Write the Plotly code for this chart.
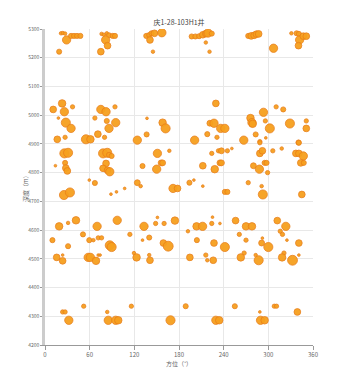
import plotly.graph_objects as go

title_text = "庆1-28-103H1井"
x_title = "方位（°）"
y_title = "深度（m）"
x_ticks = [0, 60, 120, 180, 240, 300, 360]
y_ticks = [4200, 4300, 4400, 4500, 4600, 4700, 4800, 4900, 5000, 5100, 5200, 5300]

# azimuth (deg), depth (m), relative intensity (bubble value)
azimuth = [
    # 5200-5300
    21.5, 24, 27, 29, 35, 39, 43, 47.5, 19, 76, 79, 83, 86, 91, 94, 81.5, 84, 75,
    136, 140, 143, 147, 141, 157, 145, 197, 202, 207, 212, 216, 219, 224, 216, 221,
    273, 277, 281, 284, 287, 307, 331, 338, 341, 342, 347, 351, 340.5,
    # 4900-5050
    23, 11, 26, 37, 18, 28, 35, 16.5, 27, 55, 61, 71, 80, 67, 75, 82, 94, 83, 86, 95,
    137, 158, 162, 136.5, 124, 201, 218, 221.5, 227, 229.5, 231, 236, 241.6, 267,
    276, 278, 279, 283, 288.6, 296, 296.6, 293.5, 302, 310.5, 320, 329, 351, 351, 340.5,
    # 4700-4900
    26, 31, 14, 27, 28, 30, 25.5, 33.5, 59.5, 67, 78, 83.6, 86, 82, 78, 84, 87, 88.6, 96,
    151, 167, 131, 156, 158, 150, 89.5, 124, 128.5, 172, 178, 107, 194, 200, 212,
    224, 233, 237, 245, 251, 212, 228, 235, 237, 241.6, 245, 273, 280, 288, 288.6, 292,
    288.6, 295, 297.6, 299, 306, 318, 291, 292.6, 337, 341, 347, 343.6, 347.6, 341, 345,
    # 4510-4650
    19, 31, 41.6, 70, 97, 10, 51, 59.5, 65, 71.5, 76, 31, 87, 89.5,
    133, 151, 148.6, 160, 174.5, 203.6, 211.7, 224, 225, 235, 256, 270, 278, 312, 323.5,
    114, 131, 140, 159, 165.5, 192, 204, 227, 241.6, 261, 270, 291, 292, 300, 316, 319,
    325, 341, 321, 267.5, 119.5, 140,
    # 4490-4515
    15.7, 23.7, 23.7, 58, 61, 68.5, 71.5, 74, 123, 141, 194.6, 216, 218, 226, 263, 283,
    287, 318.5, 332.5, 341,
    # 4280-4340
    23.7, 27, 32, 52, 83.6, 85, 95, 98.4, 116, 168.6, 189, 229.5, 234, 255, 288.6, 289.5,
    295, 308, 311, 339,
]

depth = [
    # 5200-5300
    5285, 5286, 5284, 5262, 5276, 5276, 5276, 5276, 5221, 5283, 5280, 5285, 5278, 5276, 5276, 5262, 5242, 5221,
    5276, 5279, 5285, 5285, 5262, 5287, 5221, 5274, 5274, 5275, 5280, 5284, 5286, 5284, 5253, 5221,
    5276, 5276, 5278, 5282, 5283, 5233, 5285, 5285, 5283, 5262, 5275, 5275, 5242,
    # 4900-5050
    5041, 5020, 5012, 5029, 4990, 4974, 4954, 4916, 4923, 4916, 4916, 4934, 4923, 4990, 5020, 5012, 5029, 4980, 4954, 4974,
    4989, 4974, 4954, 4933, 4913, 4913, 4934, 4972, 4972, 5041, 4923, 4954, 4954, 4913,
    4990, 4974, 4970, 4933, 4908, 4980, 4921, 5010, 4954, 5029, 5020, 4971, 4980, 4954, 4905,
    # 4700-4900
    4867, 4869, 4824, 4834, 4816, 4806, 4722, 4731, 4774, 4764, 4867, 4869, 4862, 4832, 4815, 4808, 4803, 4725, 4733,
    4867, 4876, 4823, 4834, 4834, 4812, 4858, 4765, 4753, 4745, 4745, 4745, 4765, 4774, 4753,
    4867, 4876, 4876, 4876, 4884, 4824, 4812, 4834, 4834, 4733, 4733, 4765, 4824, 4812, 4867, 4876,
    4904, 4834, 4834, 4800, 4876, 4884, 4753, 4724, 4867, 4867, 4858, 4834, 4834, 4904, 4724,
    # 4510-4650
    4613, 4625, 4634, 4613, 4634, 4565, 4585, 4565, 4565, 4573, 4573, 4544, 4547, 4541,
    4613, 4644, 4623, 4623, 4633, 4613, 4613, 4623, 4645, 4623, 4633, 4613, 4613, 4633, 4613,
    4585, 4565, 4574, 4555, 4544, 4596, 4565, 4555, 4541, 4585, 4565, 4555, 4572, 4541, 4596, 4585,
    4565, 4555, 4520, 4520, 4520, 4513,
    # 4490-4515
    4505, 4493, 4513, 4505, 4505, 4493, 4513, 4513, 4505, 4495, 4505, 4513, 4495, 4495, 4505, 4513,
    4495, 4505, 4495, 4513,
    # 4280-4340
    4315, 4315, 4286, 4335, 4315, 4286, 4286, 4286, 4335, 4286, 4335, 4286, 4286, 4335, 4315, 4286,
    4286, 4335, 4335, 4315,
]

intensity = [
    # 5200-5300
    1, 1, 1, 4, 2, 2, 2, 2, 2, 1, 1, 1, 2, 2, 2, 4, 3, 3,
    2, 2, 2, 3, 3, 4, 1, 2, 2, 2, 3, 3, 4, 2, 1, 1,
    2, 3, 3, 3, 3, 4, 1, 2, 2, 4, 3, 3, 3,
    # 4900-5050
    3.5, 3, 4, 1.5, 0.5, 4.5, 4, 3, 1.5, 4.5, 3.5, 3, 1.5, 1.5, 4, 4, 1.5, 2, 4, 4,
    0.5, 3.5, 4.5, 2, 4, 4, 2, 2.5, 4, 3, 1.5, 4, 4, 4,
    3.5, 4, 3.5, 2, 1.5, 1.5, 0.5, 4, 4.5, 1.5, 2, 4.5, 1.5, 3, 2,
    # 4700-4900
    4.5, 4.5, 0.5, 2, 3, 3, 4.5, 4.5, 0.5, 2, 4.5, 4.5, 2, 3, 3, 3, 4, 0.5, 0.5,
    4, 1, 2, 2.5, 2.5, 4, 2, 2.5, 1, 4, 3, 0.5, 2, 0.5, 0.5,
    1.5, 1.5, 2.5, 1.5, 0.5, 3, 3.5, 2.5, 2.5, 2, 2, 1.5, 2.5, 4, 3, 3,
    1.5, 2, 2, 1.5, 1.5, 1, 1, 4.5, 3, 3, 4, 3, 2, 2, 3,
    # 4510-4650
    3.5, 1, 3.5, 4, 4, 2, 2, 2, 1, 1.5, 1.5, 2, 4.5, 4.5,
    4, 0.5, 1.5, 1.5, 3.5, 3.5, 4, 1.5, 0.5, 0.5, 3, 3.5, 3.5, 3, 4,
    1.5, 0.5, 2, 3, 5, 1, 2, 3, 4.5, 1.5, 1.5, 2.5, 0.5, 4.5, 1.5, 1.5,
    0.5, 3, 1.5, 1.5, 1, 1,
    # 4490-4515
    3, 3, 0.5, 4, 4, 3.5, 0.5, 0.5, 3.5, 3, 3, 1.5, 1, 3, 3.5, 1,
    4.5, 3.5, 5, 0.5,
    # 4280-4340
    1.5, 1.5, 4, 1.5, 1, 4, 4, 3.5, 1.5, 4.5, 2, 4, 3.5, 2, 0.5, 4,
    3.5, 1.5, 1.5, 3,
]

marker_px = [1.9 + 1.6 * v for v in intensity]

font_family = "Noto Sans CJK SC, Noto Sans, sans-serif"

fig = go.Figure()
fig.add_trace(go.Scatter(
    x=azimuth, y=depth, mode="markers",
    marker=dict(size=marker_px, color="rgb(246,160,30)", opacity=0.95,
                line=dict(color="rgb(232,124,24)", width=0.8)),
    hoverinfo="x+y", showlegend=False,
))

fig.update_layout(
    width=347, height=388,
    margin=dict(l=45, r=34, t=29, b=43),
    paper_bgcolor="white", plot_bgcolor="white",
    font=dict(family=font_family, size=6, color="#666"),
    title=dict(text=title_text, x=0.516, xanchor="center", y=0.942, yanchor="middle",
               font=dict(size=7, color="#444", family=font_family)),
    annotations=[dict(text=y_title, textangle=-90, xref="paper", yref="paper",
                      x=-0.0746, y=0.5, xanchor="center", yanchor="middle",
                      showarrow=False, font=dict(size=6, color="#666"))],
)
fig.update_xaxes(
    range=[0, 360], tickvals=x_ticks, ticktext=[str(v) for v in x_ticks],
    showgrid=True, gridcolor="#e8e8e8", gridwidth=1,
    showline=True, linecolor="#999", linewidth=1,
    ticks="outside", ticklen=4, tickcolor="#999",
    zeroline=False, tickfont=dict(size=6, color="#666"),
    title=dict(text=x_title, font=dict(size=6, color="#666"), standoff=2),
    mirror=False,
)
fig.update_yaxes(
    range=[4200, 5300], tickvals=y_ticks, ticktext=[str(v) for v in y_ticks],
    showgrid=True, gridcolor="#e8e8e8", gridwidth=1,
    showline=True, linecolor="#ccc", linewidth=2.5,
    ticks="outside", ticklen=2, tickcolor="#999",
    zeroline=False, tickfont=dict(size=5, color="#666"),
)

fig.write_html("out.html")
